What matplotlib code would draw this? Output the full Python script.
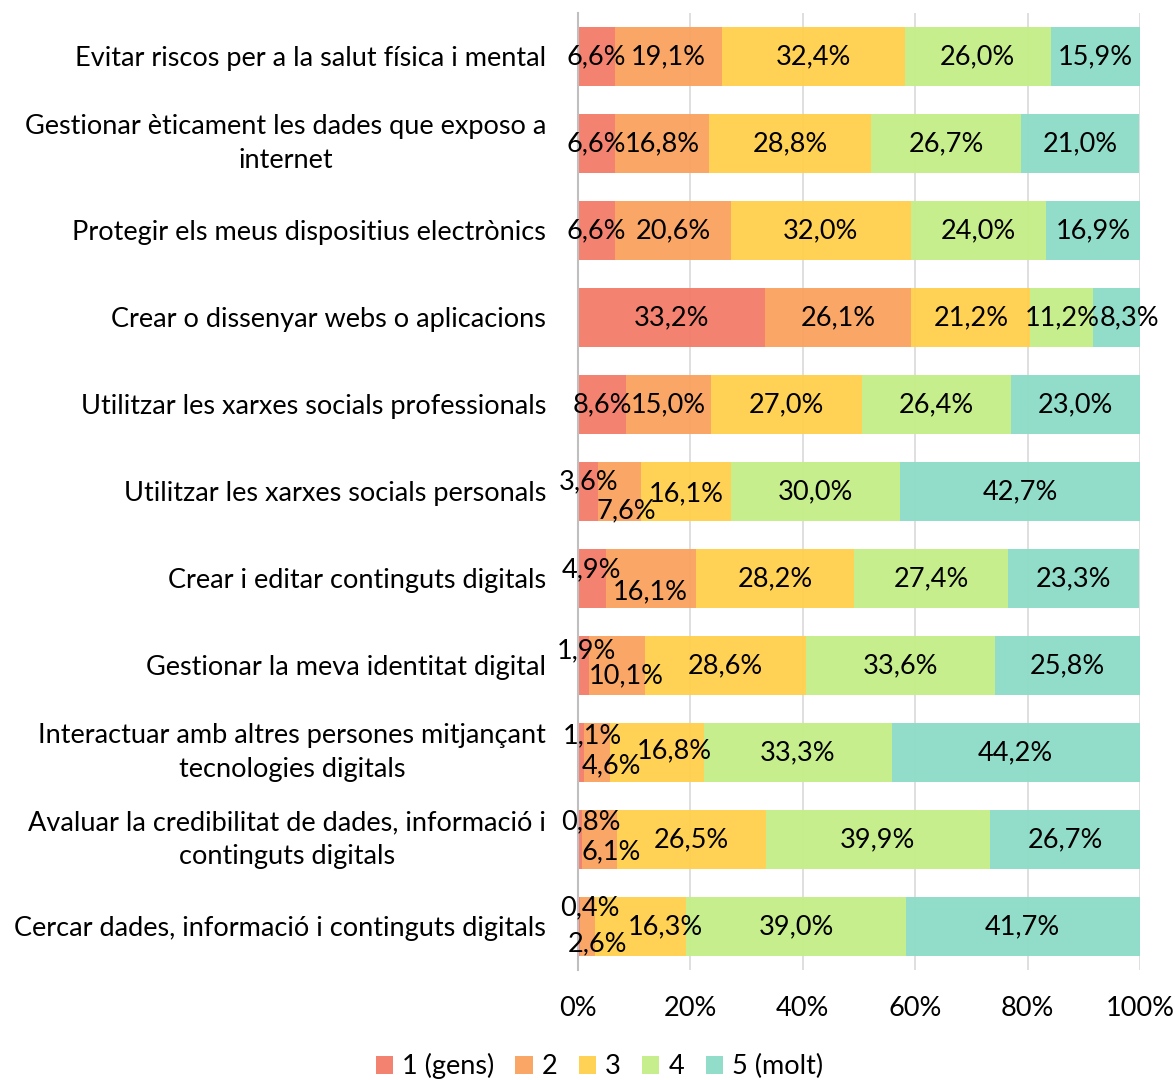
import matplotlib
matplotlib.use("Agg")
import matplotlib.pyplot as plt
import numpy as np

plt.rcParams["font.family"] = ["Lato", "DejaVu Sans"]

categories = [
    "Evitar riscos per a la salut física i mental",
    "Gestionar èticament les dades que exposo a\ninternet",
    "Protegir els meus dispositius electrònics",
    "Crear o dissenyar webs o aplicacions",
    "Utilitzar les xarxes socials professionals",
    "Utilitzar les xarxes socials personals",
    "Crear i editar continguts digitals",
    "Gestionar la meva identitat digital",
    "Interactuar amb altres persones mitjançant\ntecnologies digitals",
    "Avaluar la credibilitat de dades, informació i\ncontinguts digitals",
    "Cercar dades, informació i continguts digitals",
]
s1 = [6.6, 6.6, 6.6, 33.2, 8.6, 3.6, 4.9, 1.9, 1.1, 0.8, 0.4]
s2 = [19.1, 16.8, 20.6, 26.1, 15.0, 7.6, 16.1, 10.1, 4.6, 6.1, 2.6]
s3 = [32.4, 28.8, 32.0, 21.2, 27.0, 16.1, 28.2, 28.6, 16.8, 26.5, 16.3]
s4 = [26.0, 26.7, 24.0, 11.2, 26.4, 30.0, 27.4, 33.6, 33.3, 39.9, 39.0]
s5 = [15.9, 21.0, 16.9, 8.3, 23.0, 42.7, 23.3, 25.8, 44.2, 26.7, 41.7]
series = [s1, s2, s3, s4, s5]
series_names = ["1 (gens)", "2", "3", "4", "5 (molt)"]
colors = ["#F47B68", "#F9A15E", "#FFD04C", "#C4EE86", "#8CDCC6"]

FS = 19.5

# label nudges (pixels) for crowded small segments: (row, series) -> (dx, dy)
nudges = {
    (3, 4): (13, 0),
    (5, 0): (0, 10), (5, 1): (7, -19), (5, 2): (0, -2),
    (6, 0): (0, 9), (6, 1): (0, -13),
    (7, 0): (3, 15), (7, 1): (9, -10),
    (8, 0): (11, 17), (8, 1): (14, -13), (8, 2): (17, 2),
    (9, 0): (11, 18), (9, 1): (12, -12),
    (10, 0): (11, 19), (10, 1): (10, -17), (10, 2): (25, 0),
}

fig = plt.figure(figsize=(11.75, 10.8), dpi=100)
ax = fig.add_axes([0.4919, 0.1019, 0.4783, 0.8861])

y = np.arange(len(categories))
left = np.zeros(len(categories))
for j, (vals, name, c) in enumerate(zip(series, series_names, colors)):
    vals = np.array(vals)
    ax.barh(y, vals, left=left, height=0.67, color=c, label=name, alpha=0.95, zorder=2)
    for i, v in enumerate(vals):
        dx, dy = nudges.get((i, j), (0, 0))
        ax.annotate(f"{v:.1f}%".replace(".", ","), (left[i] + v / 2, y[i]),
                    xytext=(dx * 0.72, dy * 0.72), textcoords="offset points",
                    ha="center", va="center", fontsize=FS, color="black", zorder=3)
    left += vals

ax.set_xlim(0, 100)
ax.set_ylim(len(categories) - 0.5, -0.5)
ax.set_xticks(np.arange(0, 101, 20))
ax.set_xticklabels([f"{t}%" for t in range(0, 101, 20)], fontsize=FS)
ax.set_yticks(y)
ax.set_yticklabels(categories, fontsize=FS, multialignment="center", linespacing=1.45)
for lab in ax.get_yticklabels():
    if "\n" in lab.get_text():
        lab.set_va("center")
ax.tick_params(axis="x", length=0, pad=19)
ax.tick_params(axis="y", length=0, pad=23)
ax.grid(axis="x", color="#D9D9D9", linewidth=1.2, zorder=0)
ax.set_axisbelow(True)
for s in ["top", "right", "bottom"]:
    ax.spines[s].set_visible(False)
ax.spines["left"].set_color("#BFBFBF")
ax.spines["left"].set_linewidth(1.5)

fig.legend(loc="lower center", bbox_to_anchor=(0.51, -0.022), ncol=5, frameon=False,
           fontsize=FS, handlelength=0.63, handleheight=0.63, columnspacing=0.8,
           handletextpad=0.33)

plt.savefig("out.png", dpi=100)
